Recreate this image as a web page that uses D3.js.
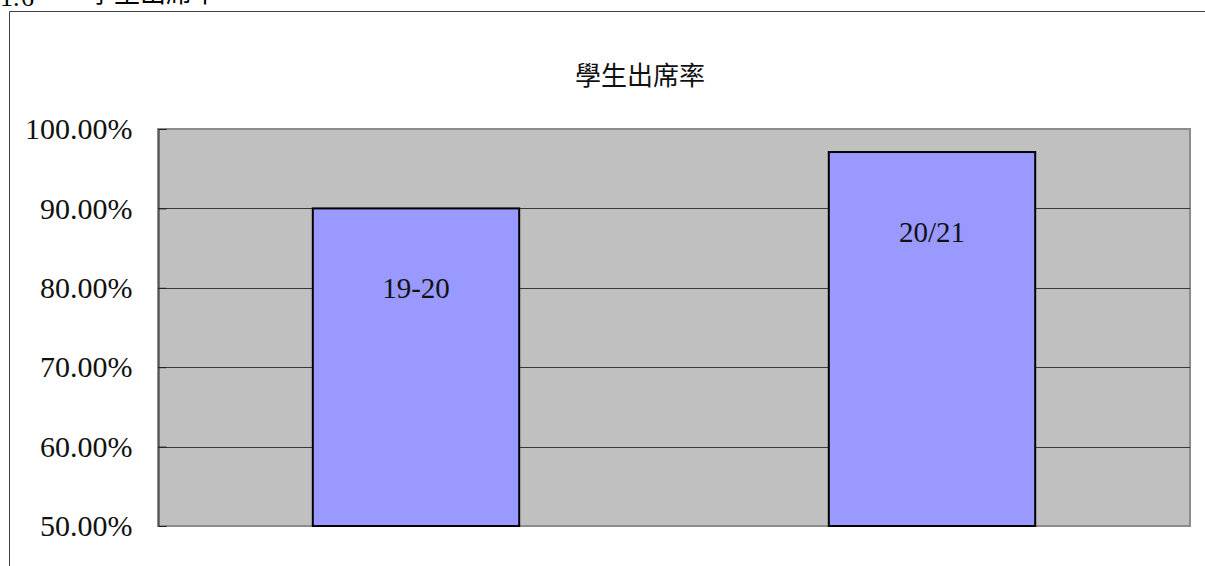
<!DOCTYPE html>
<html>
<head>
  <meta charset="UTF-8">
  <style>
    body { margin: 0; background: #fff; }
    svg { display: block; }
  </style>
</head>
<body>
  <svg></svg>
<script src="https://d3js.org/d3.v7.min.js"></script>
<script>
let width = 1205,
    height = 566;

// data
let years = ["19-20", "20/21"];
let rates = [0.90, 0.971];
let ticks = [0.5, 0.6, 0.7, 0.8, 0.9, 1.0];

let margin = {left: 158, right: 1190, top: 129, bottom: 526};

let svg = d3.select("svg")
    .attr("width", width)
    .attr("height", height);

// heading of the page, cut off at the top like in the source
svg.append("text")
    .attr("x", 0).attr("y", 6)
    .style("font-family", "'Liberation Serif', serif")
    .style("font-size", "26px")
    .text("1.");
svg.append("text")
    .attr("x", 21).attr("y", 6)
    .style("font-family", "'Liberation Serif', serif")
    .style("font-size", "26px")
    .text("6");
svg.append("text")
    .attr("x", 88).attr("y", 2)
    .style("font-family", "'Noto Sans CJK TC', sans-serif")
    .style("font-size", "26px")
    .text("學生出席率");

// outer frame
svg.append("path")
    .attr("d", "M9.5," + height + " L9.5,11.5 L" + width + ",11.5")
    .attr("fill", "none")
    .attr("stroke", "#404040")
    .attr("stroke-width", 1);

let x = d3.scaleBand()
    .domain(years)
    .range([margin.left, margin.right])
    .paddingInner(0.6)
    .paddingOuter(0.3);

let y = d3.scaleLinear()
    .domain([0.5, 1.0])
    .range([margin.bottom, margin.top]);

// plot background
svg.append("rect")
    .attr("x", margin.left)
    .attr("y", margin.top)
    .attr("width", margin.right - margin.left)
    .attr("height", margin.bottom - margin.top)
    .attr("fill", "#c0c0c0")
    .attr("stroke", "#8c8c8c")
    .attr("stroke-width", 2);

// grid lines
svg.append("g")
    .selectAll("line")
    .data(ticks.filter(d => d > 0.5 && d < 1.0))
    .enter()
    .append("line")
    .attr("x1", margin.left)
    .attr("x2", margin.right)
    .attr("y1", d => Math.round(y(d)) + 0.5)
    .attr("y2", d => Math.round(y(d)) + 0.5)
    .attr("stroke", "#3a3a3a")
    .attr("stroke-width", 1);

// y axis
let yAxis = svg.append("g")
    .attr("transform", "translate(" + (margin.left + 0.5) + ",0)")
    .call(d3.axisLeft(y).tickValues(ticks).tickSize(-8).tickPadding(26)
        .tickFormat(d => (d * 100).toFixed(2) + "%"));
yAxis.select(".domain").attr("stroke", "#222");
yAxis.selectAll(".tick line").attr("stroke", "#222");
yAxis.selectAll(".tick text")
    .style("font-family", "'Liberation Serif', serif")
    .style("font-size", "30px")
    .attr("fill", "#111");

// bars
let bars = svg.append("g")
    .selectAll("g")
    .data(years.map((d, i) => ({year: d, rate: rates[i]})))
    .enter()
    .append("g");

bars.append("rect")
    .attr("x", d => x(d.year))
    .attr("y", d => y(d.rate))
    .attr("width", x.bandwidth())
    .attr("height", d => y(0.5) - y(d.rate))
    .attr("fill", "#9999ff")
    .attr("stroke", "#000")
    .attr("stroke-width", 2);

bars.append("text")
    .attr("x", d => x(d.year) + x.bandwidth() / 2)
    .attr("y", d => y(d.rate) + 80)
    .attr("text-anchor", "middle")
    .attr("dominant-baseline", "central")
    .style("font-family", "'Liberation Serif', serif")
    .style("font-size", "29px")
    .attr("fill", "#111")
    .text(d => d.year);

// title
svg.append("text")
    .attr("x", 640)
    .attr("y", 73)
    .attr("text-anchor", "middle")
    .attr("dominant-baseline", "central")
    .style("font-family", "'Noto Sans CJK TC', sans-serif")
    .style("font-size", "26px")
    .attr("fill", "#111")
    .text("學生出席率");
</script>
</body>
</html>
